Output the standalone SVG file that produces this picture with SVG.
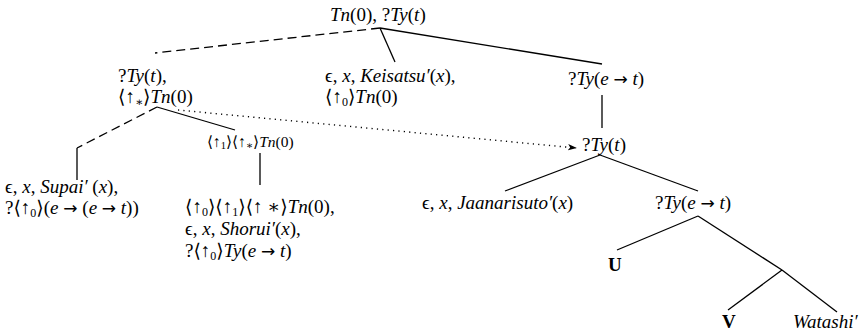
<svg xmlns="http://www.w3.org/2000/svg" width="863" height="333" viewBox="0 0 863 333">
  <style>
    text { font-family: "Liberation Serif", "DejaVu Serif", serif; font-size: 19px; fill: #000; }
    .i { font-style: italic; }
    .b { font-weight: bold; }
    .ar { font-family: "DejaVu Sans", sans-serif; font-style: normal; font-size: 17px; }
    .sm { font-size: 15.5px; }
    .sub { font-size: 12px; }
    .smsub { font-size: 10.5px; }
    .edge { stroke: #000; stroke-width: 1.3; fill: none; }
    .dash { stroke-dasharray: 9 5; }
    .dot { stroke-dasharray: 1.2 4.2; stroke-width: 1.4; }
  </style>
  <defs>
    <marker id="arrow" viewBox="0 0 10 10" refX="9" refY="5" markerWidth="9" markerHeight="9" markerUnits="userSpaceOnUse" orient="auto">
      <path d="M0,1.5 L10,5 L0,8.5 L2.5,5 Z" fill="#000"/>
    </marker>
  </defs>

  <!-- tree edges -->
  <g id="connectors">
    <line class="edge dash" x1="380" y1="28" x2="155" y2="53"/>
    <line class="edge" x1="380" y1="28" x2="395" y2="62"/>
    <line class="edge" x1="380" y1="28" x2="602" y2="64"/>
    <line class="edge" x1="602" y1="95" x2="602" y2="128"/>
    <line class="edge dot" x1="178" y1="110" x2="576" y2="148" marker-end="url(#arrow)"/>
    <line class="edge dash" x1="157" y1="107" x2="77" y2="148"/>
    <line class="edge" x1="77" y1="148" x2="77" y2="180"/>
    <line class="edge" x1="157" y1="107" x2="235" y2="130"/>
    <line class="edge" x1="260" y1="153" x2="260" y2="185"/>
    <line class="edge" x1="600" y1="155" x2="505" y2="191"/>
    <line class="edge" x1="600" y1="155" x2="698" y2="191"/>
    <line class="edge" x1="698" y1="216" x2="617" y2="250"/>
    <line class="edge" x1="698" y1="216" x2="782" y2="270"/>
    <line class="edge" x1="782" y1="270" x2="728" y2="310"/>
    <line class="edge" x1="782" y1="270" x2="837" y2="312"/>
  </g>

  <g id="root">
    <text x="330" y="21"><tspan class="i">Tn</tspan>(0), ?<tspan class="i">Ty</tspan>(<tspan class="i">t</tspan>)</text>
  </g>

  <g id="unfixed">
    <text x="118" y="82">?<tspan class="i">Ty</tspan>(<tspan class="i">t</tspan>),</text>
    <text x="118" y="103">⟨↑<tspan class="sub" dy="3">∗</tspan><tspan dy="-3">⟩</tspan><tspan class="i">Tn</tspan>(0)</text>
  </g>

  <g id="keisatsu">
    <text x="325" y="82">ϵ, <tspan class="i">x</tspan>, <tspan class="i">Keisatsu′</tspan>(<tspan class="i">x</tspan>),</text>
    <text x="325" y="103">⟨↑<tspan class="sub" dy="3">0</tspan><tspan dy="-3">⟩</tspan><tspan class="i">Tn</tspan>(0)</text>
  </g>

  <g id="pred-top">
    <text x="568" y="85">?<tspan class="i">Ty</tspan>(<tspan class="i">e</tspan> <tspan class="ar">→</tspan> <tspan class="i">t</tspan>)</text>
  </g>

  <g id="embedded">
    <text x="582" y="151">?<tspan class="i">Ty</tspan>(<tspan class="i">t</tspan>)</text>
  </g>

  <g id="link-label">
    <text class="sm" x="207" y="147">⟨↑<tspan class="smsub" dy="2">1</tspan><tspan dy="-2">⟩⟨↑</tspan><tspan class="smsub" dy="2">∗</tspan><tspan dy="-2">⟩</tspan><tspan class="i">Tn</tspan>(0)</text>
  </g>

  <g id="supai">
    <text x="5" y="193">ϵ, <tspan class="i">x</tspan>, <tspan class="i">Supai′</tspan> (<tspan class="i">x</tspan>),</text>
    <text x="5" y="214">?⟨↑<tspan class="sub" dy="3">0</tspan><tspan dy="-3">⟩(</tspan><tspan class="i">e</tspan> <tspan class="ar">→</tspan> (<tspan class="i">e</tspan> <tspan class="ar">→</tspan> <tspan class="i">t</tspan>))</text>
  </g>

  <g id="shorui">
    <text x="185" y="213">⟨↑<tspan class="sub" dy="3">0</tspan><tspan dy="-3">⟩⟨↑</tspan><tspan class="sub" dy="3">1</tspan><tspan dy="-3">⟩⟨↑ ∗⟩</tspan><tspan class="i">Tn</tspan>(0),</text>
    <text x="185" y="235">ϵ, <tspan class="i">x</tspan>, <tspan class="i">Shorui′</tspan>(<tspan class="i">x</tspan>),</text>
    <text x="185" y="257">?⟨↑<tspan class="sub" dy="3">0</tspan><tspan dy="-3">⟩</tspan><tspan class="i">Ty</tspan>(<tspan class="i">e</tspan> <tspan class="ar">→</tspan> <tspan class="i">t</tspan>)</text>
  </g>

  <g id="jaanarisuto">
    <text x="422" y="209">ϵ, <tspan class="i">x</tspan>, <tspan class="i">Jaanarisuto′</tspan>(<tspan class="i">x</tspan>)</text>
  </g>

  <g id="pred-low">
    <text x="655" y="209">?<tspan class="i">Ty</tspan>(<tspan class="i">e</tspan> <tspan class="ar">→</tspan> <tspan class="i">t</tspan>)</text>
  </g>

  <g id="node-u">
    <text class="b" x="608" y="271">U</text>
  </g>

  <g id="node-v">
    <text class="b" x="722" y="328">V</text>
  </g>

  <g id="watashi">
    <text class="i" x="793" y="328">Watashi′</text>
  </g>
</svg>
